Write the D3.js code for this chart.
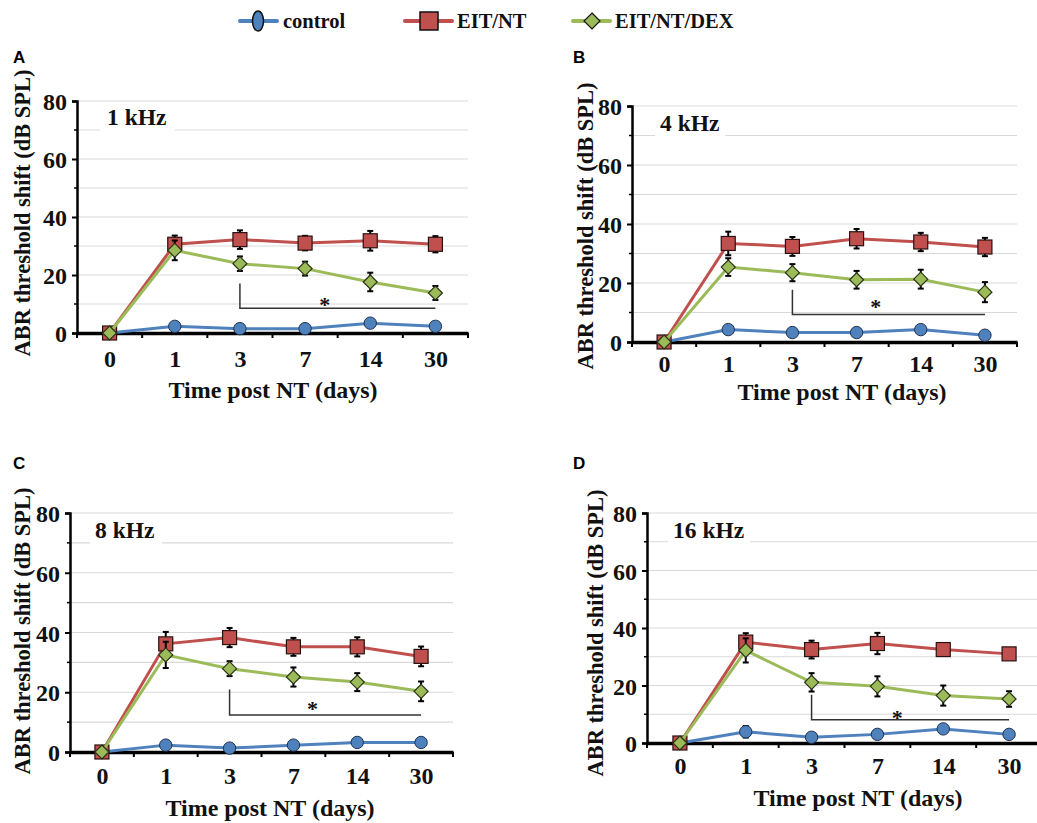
<!DOCTYPE html>
<html><head><meta charset="utf-8">
<script src="https://cdn.jsdelivr.net/npm/d3@7"></script>
<style>body{margin:0;background:#fff}svg{display:block}</style>
</head><body>
<svg id="c" width="1037" height="823"></svg>
<script>
// ---- data ----
const days = ["0","1","3","7","14","30"];
const seriesNames = ["control","EIT/NT","EIT/NT/DEX"];
const yTicks = [0,20,40,60,80];
const panelLetters = ["A","B","C","D"];
const freqLabels = ["1 kHz","4 kHz","8 kHz","16 kHz"];

const control1k = [0,2.3,1.5,1.5,3.4,2.3];
const eit1k     = [0,30.6,32.2,31.0,31.8,30.6];
const dex1k     = [0,28.5,23.9,22.2,17.6,13.8];
const controlErr1k = [0,1,1,1,1,1];
const eitErr1k     = [0,3.0,3.2,2.5,3.4,2.8];
const dexErr1k     = [0,3.4,2.5,2.4,3.2,2.4];

const control4k = [0,4.2,3.2,3.2,4.2,2.3];
const eit4k     = [0,33.4,32.4,35.0,33.9,32.2];
const dex4k     = [0,25.4,23.5,21.1,21.3,16.9];
const controlErr4k = [0,1,1,1,1,1];
const eitErr4k     = [0,4.0,3.2,3.3,3.1,3.1];
const dexErr4k     = [0,3.0,2.9,3.0,3.2,3.4];

const control8k = [0,2.3,1.3,2.3,3.2,3.2];
const eit8k     = [0,36.2,38.3,35.2,35.2,32.0];
const dex8k     = [0,32.5,27.9,25.1,23.4,20.3];
const controlErr8k = [0,1,1,1,1,1];
const eitErr8k     = [0,4.0,3.2,3.0,3.2,3.3];
const dexErr8k     = [0,4.4,2.5,3.2,3.0,3.3];

const control16k = [0,3.9,2.0,3.0,4.9,3.0];
const eit16k     = [0,35.1,32.5,34.6,32.5,31.0];
const dex16k     = [0,32.2,21.1,19.7,16.5,15.3];
const controlErr16k = [0,2,1,1,1,1];
const eitErr16k     = [0,3.1,3.1,3.7,1.7,1.5];
const dexErr16k     = [0,4.2,3.2,3.5,3.5,2.7];

// significance bracket: [top, bottom] in dB, star height
const bracketTop    = [17.1,17.7,20.9,16.8];
const bracketBottom = [8.5,9.3,12.4,8.1];
const starLevel     = [11.8,13.8,16.4,11.0];

const panelData = [
  {control:control1k, eit:eit1k, dex:dex1k, ce:controlErr1k, ee:eitErr1k, de:dexErr1k},
  {control:control4k, eit:eit4k, dex:dex4k, ce:controlErr4k, ee:eitErr4k, de:dexErr4k},
  {control:control8k, eit:eit8k, dex:dex8k, ce:controlErr8k, ee:eitErr8k, de:dexErr8k},
  {control:control16k, eit:eit16k, dex:dex16k, ce:controlErr16k, ee:eitErr16k, de:dexErr16k}
];

// ---- layout ----
const layout = [
  {l:77,  r:468,  t:101, b:333, letter:[13,63],  ytx:22,  yty:213, xtx:273, xty:390, tickY:25, freq:[107,125], freqBox:[100,107,75,24]},
  {l:632, r:1017, t:106, b:342, letter:[573,63], ytx:585, yty:226, xtx:842, xty:392, tickY:21, freq:[660,131], freqBox:[655,113,70,24]},
  {l:70,  r:453,  t:513, b:752, letter:[13,469], ytx:22,  yty:631, xtx:270, xty:808, tickY:23, freq:[95,538],  freqBox:[90,520,72,24]},
  {l:647, r:1042, t:513, b:743, letter:[573,469],ytx:595, yty:633, xtx:858, xty:798, tickY:22, freq:[673,538], freqBox:[668,520,82,24]}
];

const colors = {control:"#4F81BD", eit:"#C0504D", dex:"#9BBB59"};
const serif = "'Liberation Serif','Times New Roman',serif";
const sans = "'Liberation Sans',Arial,sans-serif";

const svg = d3.select("#c");

layout.forEach((L, i) => {
  const D = panelData[i];
  const g = svg.append("g");
  const x = d3.scalePoint().domain(days).range([L.l, L.r]).padding(0.5);
  const y = d3.scaleLinear().domain([0,80]).range([L.b, L.t]);
  const step = x.step();

  // gridlines
  g.append("g").selectAll("line").data(d3.range(10,81,10)).join("line")
    .attr("x1", L.l).attr("x2", L.r).attr("y1", d=>y(d)).attr("y2", d=>y(d))
    .attr("stroke", "#d9d9d9").attr("stroke-width", 1.2);

  // freq label with white box
  g.append("rect").attr("x", L.freqBox[0]).attr("y", L.freqBox[1]).attr("width", L.freqBox[2]).attr("height", L.freqBox[3]).attr("fill","#fff");
  g.append("text").attr("x", L.freq[0]).attr("y", L.freq[1]).text(freqLabels[i])
    .attr("font-family", serif).attr("font-weight","bold").attr("font-size", 23.5).attr("fill","#111");

  // y axis
  const yAxis = d3.axisLeft(y).tickValues(yTicks).tickSize(5).tickPadding(5).tickFormat(d3.format("d"));
  const ya = g.append("g").attr("transform", `translate(${L.l},0)`).call(yAxis);
  ya.select(".domain").attr("stroke","#000").attr("stroke-width",2.5);
  ya.selectAll(".tick line").attr("stroke","#000").attr("stroke-width",2);
  ya.selectAll(".tick text").attr("font-family", serif).attr("font-weight","bold").attr("font-size",24).attr("fill","#111").attr("dy","0.36em");
  // minor ticks
  g.append("g").selectAll("line").data([10,30,50,70]).join("line")
    .attr("x1", L.l-3).attr("x2", L.l).attr("y1", d=>y(d)).attr("y2", d=>y(d)).attr("stroke","#000").attr("stroke-width",1.5);

  // x axis
  const xa = g.append("g").attr("transform", `translate(0,${L.b})`).call(d3.axisBottom(x).tickSize(0).tickPadding(L.tickY - 8));
  xa.select(".domain").attr("stroke","#000").attr("stroke-width",3.5);
  xa.selectAll(".tick text").attr("font-family", serif).attr("font-weight","bold").attr("font-size",24).attr("fill","#111");
  // boundary ticks
  g.append("g").selectAll("line").data(d3.range(0,7)).join("line")
    .attr("x1", k=>L.l + k*step).attr("x2", k=>L.l + k*step).attr("y1", L.b).attr("y2", L.b+5)
    .attr("stroke","#000").attr("stroke-width",2);

  // titles
  g.append("text").attr("transform", `translate(${L.ytx},${L.yty}) rotate(-90)`).attr("text-anchor","middle").attr("dy","0.35em")
    .text("ABR threshold shift (dB SPL)").attr("font-family", serif).attr("font-weight","bold").attr("font-size",22.5).attr("fill","#111");
  g.append("text").attr("x", L.xtx).attr("y", L.xty).attr("text-anchor","middle").attr("dy","0.35em")
    .text("Time post NT (days)").attr("font-family", serif).attr("font-weight","bold").attr("font-size",24).attr("fill","#111");
  g.append("text").attr("x", L.letter[0]).attr("y", L.letter[1]).text(panelLetters[i])
    .attr("font-family", sans).attr("font-weight","bold").attr("font-size",17).attr("fill","#000");

  // bracket
  const bx1 = x("3"), bx2 = x("30");
  g.append("path").attr("d", `M${bx1},${y(bracketTop[i])}V${y(bracketBottom[i])}H${bx2}`)
    .attr("fill","none").attr("stroke","#333").attr("stroke-width",1.5);
  g.append("text").attr("x", x("7") + 0.3*step).attr("y", y(starLevel[i])).attr("dy","0.6em").attr("text-anchor","middle")
    .text("*").attr("font-family", serif).attr("font-weight","bold").attr("font-size",22).attr("fill","#111");

  const line = d3.line().x((d,k)=>x(days[k])).y(d=>y(d));
  const series = [
    {key:"control", vals:D.control, err:D.ce},
    {key:"eit", vals:D.eit, err:D.ee},
    {key:"dex", vals:D.dex, err:D.de}
  ];
  series.forEach(s => {
    const sg = g.append("g");
    sg.append("path").datum(s.vals).attr("d", line).attr("fill","none").attr("stroke", colors[s.key]).attr("stroke-width",3);
    // error bars
    const eg = sg.append("g").attr("stroke","#000").attr("stroke-width",2);
    s.vals.forEach((v,k) => {
      if (!s.err[k]) return;
      const cx = x(days[k]);
      eg.append("line").attr("x1",cx).attr("x2",cx).attr("y1",y(v-s.err[k])).attr("y2",y(v+s.err[k]));
      eg.append("line").attr("x1",cx-3).attr("x2",cx+3).attr("y1",y(v-s.err[k])).attr("y2",y(v-s.err[k]));
      eg.append("line").attr("x1",cx-3).attr("x2",cx+3).attr("y1",y(v+s.err[k])).attr("y2",y(v+s.err[k]));
    });
    // markers
    s.vals.forEach((v,k) => {
      const cx = x(days[k]), cy = y(v);
      if (s.key === "control") {
        sg.append("circle").attr("cx",cx).attr("cy",cy).attr("r",6.2).attr("fill",colors.control).attr("stroke","#1f3350").attr("stroke-width",1);
      } else if (s.key === "eit") {
        sg.append("rect").attr("x",cx-7).attr("y",cy-7).attr("width",14).attr("height",14).attr("fill",colors.eit).attr("stroke","#2a1010").attr("stroke-width",1.2);
      } else {
        sg.append("path").attr("d",`M${cx},${cy-7}L${cx+7},${cy}L${cx},${cy+7}L${cx-7},${cy}Z`).attr("fill",colors.dex).attr("stroke","#2a3318").attr("stroke-width",1.2);
      }
    });
  });
});

// ---- legend ----
const leg = svg.append("g");
const legY = 21;
const legItems = [
  {key:"control", x1:240, x2:277, mx:258, tx:283},
  {key:"eit", x1:405, x2:452, mx:429, tx:457},
  {key:"dex", x1:573, x2:610, mx:592, tx:615}
];
legItems.forEach((it, i) => {
  leg.append("line").attr("x1",it.x1).attr("x2",it.x2).attr("y1",legY).attr("y2",legY).attr("stroke",colors[it.key]).attr("stroke-width",4).attr("stroke-linecap","round");
  if (it.key === "control") {
    leg.append("ellipse").attr("cx",it.mx).attr("cy",legY).attr("rx",5.5).attr("ry",10).attr("fill",colors.control).attr("stroke","#111").attr("stroke-width",1.5);
  } else if (it.key === "eit") {
    leg.append("rect").attr("x",it.mx-9).attr("y",legY-9).attr("width",18).attr("height",18).attr("fill",colors.eit).attr("stroke","#111").attr("stroke-width",1.5);
  } else {
    leg.append("path").attr("d",`M${it.mx},${legY-8}L${it.mx+8},${legY}L${it.mx},${legY+8}L${it.mx-8},${legY}Z`).attr("fill",colors.dex).attr("stroke","#111").attr("stroke-width",1.2);
  }
  leg.append("text").attr("x",it.tx).attr("y",legY).attr("dy","0.35em").text(seriesNames[i])
    .attr("font-family", serif).attr("font-weight","bold").attr("font-size",20.5).attr("fill","#111");
});
</script>
</body></html>
